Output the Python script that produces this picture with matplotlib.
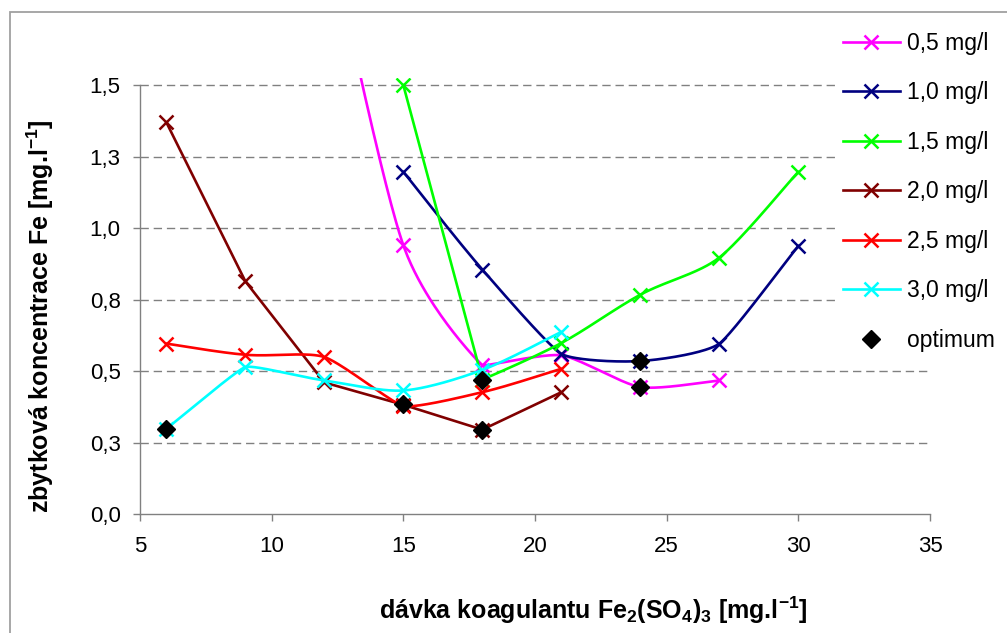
"""
Zbytková koncentrace Fe vs. dávka koagulantu, vyhlazené křivky jako v Excelu.
"""

import matplotlib

matplotlib.use("Agg")
import matplotlib.pyplot as plt
import numpy as np
from matplotlib.lines import Line2D
from matplotlib.patches import Rectangle

plt.rcParams["font.family"] = ["Liberation Sans", "DejaVu Sans"]
plt.rcParams["mathtext.fontset"] = "custom"
plt.rcParams["mathtext.rm"] = "Liberation Sans"
plt.rcParams["mathtext.bf"] = "Liberation Sans:bold"

# data
x_05 = [12, 15, 18, 21, 24, 27]
y_05 = [2.10, 0.94, 0.52, 0.555, 0.444, 0.467]
x_10 = [15, 18, 21, 24, 27, 30]
y_10 = [1.197, 0.855, 0.56, 0.535, 0.596, 0.938]
x_15 = [15, 18, 21, 24, 27, 30]
y_15 = [1.50, 0.47, 0.598, 0.767, 0.897, 1.197]
x_20 = [6, 9, 12, 15, 18, 21]
y_20 = [1.37, 0.814, 0.46, 0.382, 0.295, 0.426]
x_25 = [6, 9, 12, 15, 18, 21]
y_25 = [0.596, 0.557, 0.549, 0.378, 0.426, 0.508]
x_30 = [6, 9, 12, 15, 18, 21]
y_30 = [0.298, 0.514, 0.467, 0.432, 0.504, 0.637]
opt_x = [6, 15, 18, 18, 24, 24]
opt_y = [0.298, 0.384, 0.47, 0.295, 0.535, 0.444]

series_labels = ["0,5 mg/l", "1,0 mg/l", "1,5 mg/l", "2,0 mg/l", "2,5 mg/l", "3,0 mg/l"]
series_colors = ["#FF00FF", "#000080", "#00FF00", "#800000", "#FF0000", "#00FFFF"]
series_smooth = [True, True, True, False, True, True]

x_ticks = [5, 10, 15, 20, 25, 30, 35]
y_ticks = [0.0, 0.25, 0.5, 0.75, 1.0, 1.25, 1.5]
y_tick_labels = ["0,0", "0,3", "0,5", "0,8", "1,0", "1,3", "1,5"]

GRAY = "#808080"


def _arm(p_prev, p, p_next):
    """Tangent scale at a point: Catmull-Rom 1/6, damped at sharp turns."""
    a = p - p_prev
    b = p_next - p
    na, nb = np.hypot(*a), np.hypot(*b)
    if na == 0 or nb == 0:
        return 1 / 6
    cos_t = np.dot(a, b) / (na * nb)
    return max(cos_t, 0.0) ** 3 / 6


def excel_smooth(ax, xs, ys, n=50):
    """Bezier smoothing in screen space, roughly like Excel's 'smoothed line'."""
    pts = ax.transData.transform(np.column_stack([xs, ys]))
    out = [pts[0]]
    t = np.linspace(0, 1, n)[1:, None]
    for i in range(len(pts) - 1):
        p0 = pts[i - 1] if i > 0 else pts[i]
        p1 = pts[i]
        p2 = pts[i + 1]
        p3 = pts[i + 2] if i + 2 < len(pts) else pts[i + 1]
        c1 = p1 + (p2 - p0) * _arm(p0, p1, p2)
        c2 = p2 - (p3 - p1) * _arm(p1, p2, p3)
        seg = ((1 - t) ** 3) * p1 + 3 * ((1 - t) ** 2) * t * c1 + 3 * (1 - t) * t**2 * c2 + t**3 * p2
        out.extend(seg)
    data = ax.transData.inverted().transform(np.array(out))
    return data[:, 0], data[:, 1]


fig = plt.figure(figsize=(10.07, 6.33), dpi=100)
ax = fig.add_axes([140 / 1007, 119 / 633, 790 / 1007, 436 / 633])
ax.set_xlim(5, 35)
ax.set_ylim(0, 1.525)

for sp in ("top", "right"):
    ax.spines[sp].set_visible(False)
for sp in ("left", "bottom"):
    ax.spines[sp].set_color(GRAY)
    ax.spines[sp].set_linewidth(1.0)
ax.spines["left"].set_bounds(0, 1.5)

ax.set_xticks(x_ticks)
ax.set_yticks(y_ticks)
ax.set_yticklabels(y_tick_labels)
ax.tick_params(axis="both", direction="out", length=5, width=1.0, color=GRAY, labelsize=16)
ax.tick_params(axis="y", pad=9)
ax.tick_params(axis="x", pad=11)

for yv in y_ticks[1:]:
    ax.axhline(yv, color=GRAY, lw=1.0, dashes=(6, 3.5), zorder=1)

all_series = [(x_05, y_05), (x_10, y_10), (x_15, y_15), (x_20, y_20), (x_25, y_25), (x_30, y_30)]
handles = []
for k, ((xs, ys), col, lab, smooth) in enumerate(
    zip(all_series, series_colors, series_labels, series_smooth)
):
    sx, sy = excel_smooth(ax, xs, ys) if smooth else (xs, ys)
    ax.plot(sx, sy, color=col, lw=1.9, zorder=3 + k, solid_capstyle="round")
    ax.plot(xs, ys, ls="none", marker="x", ms=10, mew=1.8, color=col, zorder=3 + k)
    handles.append(Line2D([], [], color=col, lw=1.9, marker="x", ms=10, mew=1.8, label=lab))

ax.plot(opt_x, opt_y, ls="none", marker="D", ms=9.5, color="black", zorder=20)
handles.append(Line2D([], [], ls="none", marker="D", ms=9, color="black", label="optimum"))

fig.legend(
    handles=handles,
    loc="upper left",
    bbox_to_anchor=(838 / 1007, 1 - 27 / 633),
    frameon=True,
    facecolor="white",
    edgecolor="none",
    framealpha=1.0,
    fontsize=16.5,
    labelspacing=1.16,
    handlelength=2.5,
    handletextpad=0.3,
    borderpad=0.2,
    borderaxespad=0,
)

fig.text(
    40 / 1007,
    1 - 316 / 633,
    r"zbytková koncentrace Fe [mg.l$^{\mathbf{-1}}$]",
    rotation=90,
    ha="center",
    va="center",
    fontsize=18,
    fontweight="bold",
)
fig.text(
    593 / 1007,
    1 - 610 / 633,
    r"dávka koagulantu Fe$_{\mathbf{2}}$(SO$_{\mathbf{4}}$)$_{\mathbf{3}}$ [mg.l$^{\mathbf{-1}}$]",
    ha="center",
    va="center",
    fontsize=18,
    fontweight="bold",
)

fig.patches.append(
    Rectangle((10 / 1007, -0.1), 1.2, 1.1 - 12 / 633, transform=fig.transFigure,
              fill=False, edgecolor="#A0A0A0", lw=1.3)
)

fig.savefig("out.png", dpi=100)
